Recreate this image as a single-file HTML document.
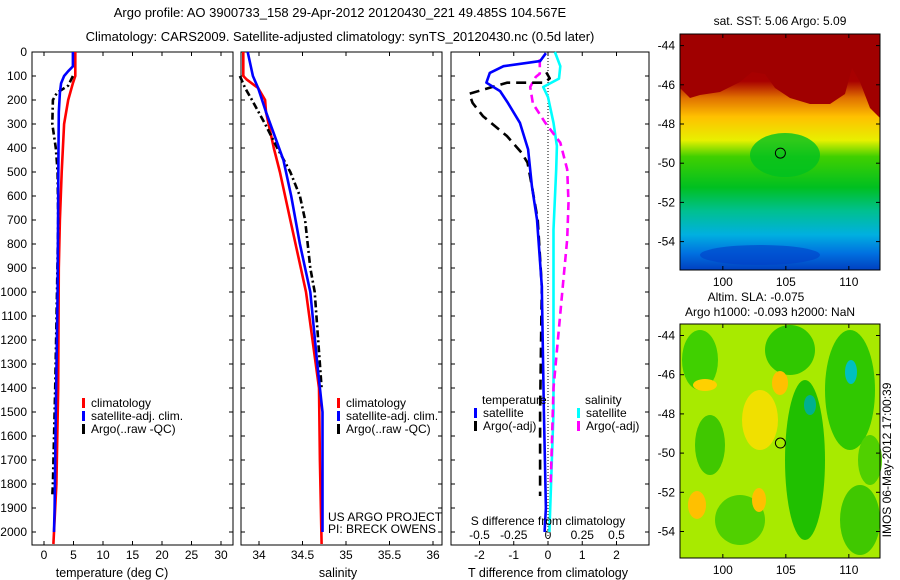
<!DOCTYPE html>
<html><head><meta charset="utf-8"><style>
body{margin:0;background:#fff;}
svg{display:block;font-family:"Liberation Sans",sans-serif;}
</style></head><body>
<svg id="c" width="900" height="580" viewBox="0 0 900 580">
<defs>
<linearGradient id="sstg" x1="0" y1="0" x2="0" y2="1">
<stop offset="0" stop-color="#a00000"/><stop offset="0.2" stop-color="#a80000"/>
<stop offset="0.27" stop-color="#e07000"/><stop offset="0.35" stop-color="#ffc000"/>
<stop offset="0.45" stop-color="#e8f000"/><stop offset="0.52" stop-color="#40d000"/>
<stop offset="0.65" stop-color="#00c020"/><stop offset="0.75" stop-color="#00c090"/>
<stop offset="0.85" stop-color="#00b0e0"/><stop offset="0.93" stop-color="#0070e0"/>
<stop offset="1" stop-color="#0040c0"/></linearGradient>
</defs>
<text x="340" y="17" font-size="13" text-anchor="middle">Argo profile: AO 3900733_158 29-Apr-2012 20120430_221 49.485S 104.567E</text>
<text x="340" y="41" font-size="13" text-anchor="middle">Climatology: CARS2009. Satellite-adjusted climatology: synTS_20120430.nc (0.5d later)</text>
<g id="g"></g>
<g font-size="12">
<rect x="82" y="398" width="3" height="10" fill="#f00"/><text x="91" y="407">climatology</text>
<rect x="82" y="411" width="3" height="10" fill="#00f"/><text x="91" y="420">satellite-adj. clim.</text>
<rect x="82" y="424" width="3" height="10" fill="#000"/><text x="91" y="433">Argo(..raw -QC)</text>
</g>
<g font-size="12">
<rect x="337" y="398" width="3" height="10" fill="#f00"/><text x="346" y="407">climatology</text>
<rect x="337" y="411" width="3" height="10" fill="#00f"/><text x="346" y="420">satellite-adj. clim.</text>
<rect x="337" y="424" width="3" height="10" fill="#000"/><text x="346" y="433">Argo(..raw -QC)</text>
</g>
<g font-size="12">
<text x="482" y="404">temperature</text><text x="585" y="404">salinity</text>
<rect x="474" y="408" width="3" height="10" fill="#00f"/><text x="483" y="417">satellite</text>
<rect x="474" y="421" width="3" height="10" fill="#000"/><text x="483" y="430">Argo(-adj)</text>
<rect x="577" y="408" width="3" height="10" fill="#0ff"/><text x="586" y="417">satellite</text>
<rect x="577" y="421" width="3" height="10" fill="#f0f"/><text x="586" y="430">Argo(-adj)</text>
</g>
<text x="328" y="521" font-size="12">US ARGO PROJECT</text>
<text x="328" y="533" font-size="12">PI: BRECK OWENS</text>
<text x="548" y="525" font-size="12" text-anchor="middle">S difference from climatology</text>
<text x="112" y="577" font-size="12.5" text-anchor="middle">temperature (deg C)</text>
<text x="338" y="577" font-size="12.5" text-anchor="middle">salinity</text>
<text x="548" y="577" font-size="12.5" text-anchor="middle">T difference from climatology</text>
<text x="780" y="25" font-size="12" text-anchor="middle">sat. SST: 5.06 Argo: 5.09</text>
<g>
<rect x="680" y="34" width="200" height="236" fill="url(#sstg)"/>
<path d="M680 88 L690 98 L700 95 L720 92 L740 82 L752 72 L765 74 L775 88 L790 98 L810 104 L830 104 L845 94 L852 68 L860 82 L870 108 L880 118 L880 34 L680 34Z" fill="#a00000"/>
<ellipse cx="785" cy="155" rx="35" ry="22" fill="#00c020" opacity="0.8"/>
<ellipse cx="760" cy="255" rx="60" ry="10" fill="#0040c8" opacity="0.6"/>
<rect x="680" y="34" width="200" height="236" fill="none" stroke="#000"/>
</g>
<text x="756" y="301" font-size="12" text-anchor="middle">Altim. SLA: -0.075</text>
<text x="770" y="316" font-size="12" text-anchor="middle">Argo h1000: -0.093 h2000: NaN</text>
<g>
<rect x="680" y="324" width="200" height="234" fill="#a8ea00"/>
<ellipse cx="700" cy="360" rx="18" ry="30" fill="#40d000"/>
<ellipse cx="790" cy="350" rx="25" ry="25" fill="#30c800"/>
<ellipse cx="805" cy="460" rx="20" ry="80" fill="#20c000"/>
<ellipse cx="850" cy="390" rx="25" ry="60" fill="#30c800"/>
<ellipse cx="851" cy="372" rx="6" ry="12" fill="#00c0c0"/>
<ellipse cx="810" cy="405" rx="6" ry="10" fill="#00b090"/>
<ellipse cx="710" cy="445" rx="15" ry="30" fill="#40c800"/>
<ellipse cx="740" cy="520" rx="25" ry="25" fill="#50d000"/>
<ellipse cx="860" cy="520" rx="20" ry="35" fill="#40c800"/>
<ellipse cx="870" cy="460" rx="12" ry="25" fill="#50d000"/>
<ellipse cx="697" cy="505" rx="9" ry="14" fill="#ffc000"/>
<ellipse cx="760" cy="420" rx="18" ry="30" fill="#f0e000"/>
<ellipse cx="780" cy="383" rx="8" ry="12" fill="#ffc000"/>
<ellipse cx="705" cy="385" rx="12" ry="6" fill="#ffd000"/>
<ellipse cx="759" cy="500" rx="7" ry="12" fill="#ffc000"/>
<rect x="680" y="324" width="200" height="234" fill="none" stroke="#000"/>
</g>
<text transform="translate(891,460) rotate(-90)" font-size="12" text-anchor="middle">IMOS 06-May-2012 17:00:39</text>
<g id="m"></g>
</svg>
<script>
const depthTicks=[0,100,200,300,400,500,600,700,800,900,1000,1100,1200,1300,1400,1500,1600,1700,1800,1900,2000];
const tTicks=[0,5,10,15,20,25,30];
const sTicks=[34,34.5,35,35.5,36];
const tdTicks=[-2,-1,0,1,2];
const sdTicks=[-0.5,-0.25,0,0.25,0.5];
const sdTickLabels=["-0.5","-0.25","0","0.25","0.5"];
const latTicks=[-44,-46,-48,-50,-52,-54];
const lonTicks=[100,105,110];

const tClimDepth=[0,100,130,200,300,400,500,700,900,1400,1800,2050];
const tClim=[5.3,5.3,4.9,4.1,3.4,3.2,3.0,2.7,2.5,2.4,2.1,1.6];
const tSatDepth=[0,60,80,100,130,170,250,400,600,1000,1500,1900,2000];
const tSat=[4.9,4.9,4.1,3.4,2.9,2.7,2.5,2.45,2.4,2.3,2.0,1.8,1.7];
const tArgoDepth=[100,140,170,200,300,400,500,700,1000,1400,1800,1850];
const tArgo=[4.9,4.1,2.2,1.5,1.4,2.0,2.3,2.4,2.2,1.9,1.5,1.4];

const sClimDepth=[0,100,115,150,200,250,300,400,500,700,900,1000,1400,1700,2050];
const sClim=[33.82,33.82,33.86,33.99,34.07,34.08,34.11,34.17,34.24,34.36,34.48,34.54,34.69,34.70,34.72];
const sSatDepth=[0,100,150,250,350,450,600,800,1000,1300,1500,2000];
const sSat=[33.87,33.93,33.99,34.08,34.18,34.28,34.37,34.47,34.59,34.67,34.73,34.73];
const sArgoDepth=[100,150,200,300,400,500,600,700,900,1000,1300,1400];
const sArgo=[33.78,33.84,33.92,34.07,34.21,34.36,34.47,34.53,34.59,34.64,34.70,34.72];

const dtSatDepth=[5,38,59,87,128,163,212,295,406,559,698,976,1500,1900,2000];
const dtSat=[-0.06,-0.23,-1.3,-1.7,-1.8,-1.4,-1.17,-0.82,-0.58,-0.47,-0.32,-0.18,-0.12,-0.06,-0.1];
const dtArgoDepth=[85,110,128,128,174,212,267,350,420,461,559,698,976,1500,1800,1850];
const dtArgo=[-0.05,0.05,-0.1,-1.2,-2.3,-2.2,-1.9,-1.2,-0.77,-0.6,-0.47,-0.3,-0.18,-0.23,-0.23,-0.23];
const dsSatDepth=[0,59,111,146,188,295,392,489,740,1500,2000];
const dsSat=[0.05,0.09,0.08,-0.035,0,0.04,0.065,0.06,0.04,0.04,0.01];
const dsArgoDepth=[30,90,104,146,215,295,378,489,628,780,962,1400,1800];
const dsArgo=[-0.06,-0.06,-0.09,-0.13,-0.11,-0.02,0.09,0.14,0.15,0.14,0.11,0.04,0.02];

const profileLat=[-49.485], profileLon=[104.567];

const Y=d=>52+d*0.24;
const xT=v=>44+v*5.9;
const xS=v=>259+(v-34)*87;
const xTD=v=>548+v*34.25;
const xSD=v=>548+v*137;
const NS="http://www.w3.org/2000/svg";
const g=document.getElementById('g');
function el(t,a,p){const e=document.createElementNS(NS,t);for(const k in a)e.setAttribute(k,a[k]);(p||g).appendChild(e);return e;}
function txt(x,y,s,anchor,p){const e=el('text',{x:x,y:y,'font-size':12,'text-anchor':anchor},p);e.textContent=s;return e;}

const panels=[{x0:32,x1:233,name:'temperature'},{x0:241,x1:442,name:'salinity'},{x0:451,x1:649,name:'difference'}];
panels.forEach(p=>{
  const b=el('rect',{x:p.x0,y:52,width:p.x1-p.x0,height:493,fill:'none',stroke:'#000'});
  
  
  depthTicks.forEach(d=>{
    el('line',{x1:p.x0,x2:p.x0+4,y1:Y(d),y2:Y(d),stroke:'#000'});
    el('line',{x1:p.x1-4,x2:p.x1,y1:Y(d),y2:Y(d),stroke:'#000'});
  });
});
depthTicks.forEach(d=>{const t=txt(27,Y(d)+4,String(d),'end');
  
  });
function xticks(arr,f,labels,ly){arr.forEach((v,i)=>{const x=f(v);
  el('line',{x1:x,x2:x,y1:541,y2:545,stroke:'#000'});
  el('line',{x1:x,x2:x,y1:52,y2:56,stroke:'#000'});
  const t=txt(x,ly,labels[i],'middle');
  
  });}
xticks(tTicks,xT,tTicks.map(String),559);
xticks(sTicks,xS,sTicks.map(String),559);
xticks(tdTicks,xTD,tdTicks.map(String),559);
sdTicks.forEach((v,i)=>{const t=txt(xSD(v),539,sdTickLabels[i],'middle');
  
  });
el('line',{x1:548,x2:548,y1:52,y2:545,stroke:'#000','stroke-dasharray':'1,2'});

function line(ds,vs,f,color,dash,name,w){
  const d=ds.map((dd,i)=>(i?'L':'M')+f(vs[i]).toFixed(1)+' '+Y(dd).toFixed(1)).join(' ');
  const a={d:d,fill:'none',stroke:color,'stroke-width':w||2.6,'stroke-linejoin':'round'};
  if(dash)a['stroke-dasharray']=dash;
  const e=el('path',a);
  
  
}
line(tClimDepth,tClim,xT,'#f00',null,'temperature-climatology-line');
line(tArgoDepth,tArgo,xT,'#000','7,3,2,3','temperature-argo-line');
line(tSatDepth,tSat,xT,'#00f',null,'temperature-satellite-line');
line(sClimDepth,sClim,xS,'#f00',null,'salinity-climatology-line');
line(sArgoDepth,sArgo,xS,'#000','7,3,2,3','salinity-argo-line');
line(sSatDepth,sSat,xS,'#00f',null,'salinity-satellite-line');
line(dsSatDepth,dsSat,xSD,'#0ff',null,'s-diff-satellite-line');
line(dsArgoDepth,dsArgo,xSD,'#f0f','8,5','s-diff-argo-line');
line(dtArgoDepth,dtArgo,xTD,'#000','10,6','t-diff-argo-line');
line(dtSatDepth,dtSat,xTD,'#00f',null,'t-diff-satellite-line');

const mg=document.getElementById('m');
const lonX=v=>680+(v-96.6)*12.6;
[{top:34,bot:270,lat44:45.6},{top:324,bot:558,lat44:335.5}].forEach(mp=>{
  const latY=v=>mp.lat44+(-44-v)*19.6;
  latTicks.forEach(v=>{const y=latY(v);
    el('line',{x1:680,x2:684,y1:y,y2:y,stroke:'#000'},mg);
    el('line',{x1:876,x2:880,y1:y,y2:y,stroke:'#000'},mg);
    const t=txt(675,y+4,String(v),'end',mg);
    
    });
  lonTicks.forEach(v=>{const x=lonX(v);
    el('line',{x1:x,x2:x,y1:mp.bot-4,y2:mp.bot,stroke:'#000'},mg);
    el('line',{x1:x,x2:x,y1:mp.top,y2:mp.top+4,stroke:'#000'},mg);
    const t=txt(x,mp.bot+16,String(v),'middle',mg);
    
    });
  profileLat.forEach((la,i)=>{
    const c=el('circle',{cx:lonX(profileLon[i]),cy:latY(la),r:5,fill:'none',stroke:'#000'},mg);
    
    });
});
</script>
</body></html>
